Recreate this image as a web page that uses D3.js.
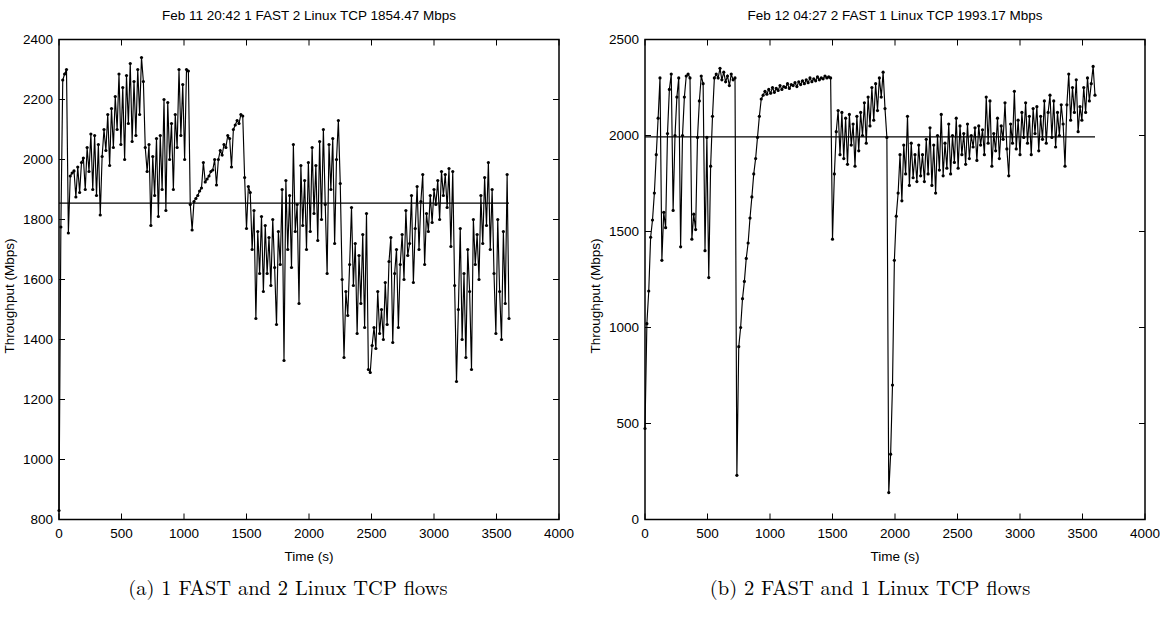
<!DOCTYPE html>
<html><head><meta charset="utf-8">
<script src="https://cdn.jsdelivr.net/npm/d3@7"></script>
<style>body{margin:0;background:#fff} svg{display:block}</style>
</head><body><svg id="c" width="1160" height="623"></svg>
<script>
// ---- data ----
const times = [0,15,30,45,60,75,90,105,120,135,150,165,180,195,210,225,240,255,270,285,300,315,330,345,360,375,390,405,420,435,450,465,480,495,510,525,540,555,570,585,600,615,630,645,660,675,690,705,720,735,750,765,780,795,810,825,840,855,870,885,900,915,930,945,960,975,990,1005,1020,1035,1050,1065,1080,1095,1110,1125,1140,1155,1170,1185,1200,1215,1230,1245,1260,1275,1290,1305,1320,1335,1350,1365,1380,1395,1410,1425,1440,1455,1470,1485,1500,1515,1530,1545,1560,1575,1590,1605,1620,1635,1650,1665,1680,1695,1710,1725,1740,1755,1770,1785,1800,1815,1830,1845,1860,1875,1890,1905,1920,1935,1950,1965,1980,1995,2010,2025,2040,2055,2070,2085,2100,2115,2130,2145,2160,2175,2190,2205,2220,2235,2250,2265,2280,2295,2310,2325,2340,2355,2370,2385,2400,2415,2430,2445,2460,2475,2490,2505,2520,2535,2550,2565,2580,2595,2610,2625,2640,2655,2670,2685,2700,2715,2730,2745,2760,2775,2790,2805,2820,2835,2850,2865,2880,2895,2910,2925,2940,2955,2970,2985,3000,3015,3030,3045,3060,3075,3090,3105,3120,3135,3150,3165,3180,3195,3210,3225,3240,3255,3270,3285,3300,3315,3330,3345,3360,3375,3390,3405,3420,3435,3450,3465,3480,3495,3510,3525,3540,3555,3570,3585,3600];

const throughputA = [830,1775,2265,2285,2300,1755,1945,1955,1962,1875,1975,1890,1990,2005,1900,2040,1960,2085,1900,2080,1880,2050,1815,2010,2100,2030,2150,1980,2170,2040,2210,2100,2285,2050,2240,2000,2280,2120,2320,2060,2260,2080,2300,2150,2340,2260,2040,1960,2050,1780,2010,1880,2070,1810,2080,1900,2200,1830,2190,2000,2120,1900,2150,2040,2300,2080,2250,2000,2300,2295,1850,1765,1860,1870,1880,1895,1905,1990,1925,1935,1945,1960,1965,2000,1915,2000,2030,2015,2050,2040,2080,2070,1975,2100,2115,2130,2120,2150,2145,1940,1770,1910,1890,1700,1830,1470,1760,1620,1810,1560,1780,1620,1740,1580,1800,1640,1450,1760,1650,1900,1330,1930,1700,1880,1640,2050,1760,1850,1520,1980,1780,1930,1700,1990,1760,2040,1820,1980,1730,2060,1800,2100,1850,1620,2050,1900,2070,1720,2000,2130,1920,1600,1340,1560,1480,1650,1840,1580,1720,1420,1680,1520,1750,1440,1820,1300,1290,1380,1440,1370,1560,1420,1500,1400,1590,1450,1660,1740,1390,1620,1700,1440,1650,1750,1600,1830,1680,1720,1880,1590,1770,1910,1700,1860,1950,1650,1820,1760,1880,1790,1900,1850,1930,1800,1960,1880,1950,1840,1970,1710,1960,1580,1260,1500,1770,1400,1620,1340,1700,1560,1300,1800,1650,1750,1600,1880,1720,1940,1780,1990,1700,1900,1620,1420,1800,1560,1400,1760,1520,1950,1470];

const throughputB = [474,1020,1190,1470,1560,1700,1900,2090,2300,1350,1600,1520,2010,2240,2320,1610,2000,2200,2300,1420,2000,2200,2310,2320,2300,1460,1590,1510,1990,2180,2310,2270,1400,1990,1260,1840,2100,2300,2320,2300,2350,2290,2330,2280,2310,2260,2320,2290,2300,230,900,1000,1150,1240,1360,1440,1570,1680,1800,1880,1990,2100,2190,2210,2230,2215,2240,2220,2250,2225,2245,2235,2260,2240,2255,2250,2270,2245,2265,2260,2275,2255,2280,2265,2285,2270,2290,2275,2300,2280,2295,2285,2305,2290,2300,2295,2310,2300,2305,2300,1460,1800,2020,2130,1900,2120,1880,2090,1850,2110,1950,2060,1840,2100,1920,2120,2000,2170,1960,2200,2050,2250,2080,2270,2130,2300,2200,2330,2140,1990,140,340,700,1350,1580,1700,1900,1660,1950,1800,2100,1740,1960,1780,1900,1760,1950,1790,1900,1760,1980,1800,2040,1740,1950,1700,2000,1820,2110,1790,1960,1830,2060,1800,2000,1860,2090,1830,2050,1900,2010,1850,2060,1880,2000,1940,2040,1870,2050,1950,2030,1900,2200,1960,2180,1840,2010,1920,2090,1880,2050,1980,2170,1930,1790,2060,1960,2230,1930,2080,1900,2120,1990,2170,1960,2100,1900,2140,2010,2150,1920,2100,1980,2180,1960,2120,2210,1990,2180,1940,2120,2000,2160,2060,1840,2160,2320,2080,2250,2120,2290,2020,2150,2080,2250,2120,2300,2180,2270,2360,2210];

const meanA = 1854.47, meanB = 1993.17;
const titles = ["Feb 11 20:42 1 FAST 2 Linux TCP 1854.47 Mbps", "Feb 12 04:27 2 FAST 1 Linux TCP 1993.17 Mbps"];
const captions = ["(a) 1 FAST and 2 Linux TCP flows", "(b) 2 FAST and 1 Linux TCP flows"];
const xTicks = [0,500,1000,1500,2000,2500,3000,3500,4000];
const yTicksA = [800,1000,1200,1400,1600,1800,2000,2200,2400];
const yTicksB = [0,500,1000,1500,2000,2500];
const xLabel = "Time (s)", yLabel = "Throughput (Mbps)";

// ---- drawing ----
const svg = d3.select("#c");
const sansFont = "'Liberation Sans Narrow','Arial Narrow','Liberation Sans',sans-serif";
const panels = [
  {x0:59, x1:559, values:throughputA, mean:meanA, yDom:[800,2400], yTicks:yTicksA, title:titles[0], caption:captions[0], capX:288},
  {x0:645, x1:1145, values:throughputB, mean:meanB, yDom:[0,2500], yTicks:yTicksB, title:titles[1], caption:captions[1], capX:870}
];
const plotTop = 39.5, plotBottom = 519.5;

panels.forEach(p => {
  const x = d3.scaleLinear().domain([0,4000]).range([p.x0, p.x1]);
  const y = d3.scaleLinear().domain(p.yDom).range([plotBottom, plotTop]);
  const g = svg.append("g");
  const pts = times.map((t,i) => [t, p.values[i]]);

  const tk = 6;
  xTicks.forEach(v => {
    g.append("line").attr("x1",x(v)).attr("x2",x(v)).attr("y1",plotBottom).attr("y2",plotBottom-tk).attr("stroke","#000").attr("stroke-width",1);
    g.append("line").attr("x1",x(v)).attr("x2",x(v)).attr("y1",plotTop).attr("y2",plotTop+tk).attr("stroke","#000").attr("stroke-width",1);
    g.append("text").attr("x",x(v)).attr("y",plotBottom+18).attr("text-anchor","middle")
      .attr("font-family",sansFont).attr("font-size",13.5).text(v);
  });
  p.yTicks.forEach(v => {
    g.append("line").attr("x1",p.x0).attr("x2",p.x0+tk).attr("y1",y(v)).attr("y2",y(v)).attr("stroke","#000").attr("stroke-width",1);
    g.append("line").attr("x1",p.x1).attr("x2",p.x1-tk).attr("y1",y(v)).attr("y2",y(v)).attr("stroke","#000").attr("stroke-width",1);
    g.append("text").attr("x",p.x0-6).attr("y",y(v)+4.5).attr("text-anchor","end")
      .attr("font-family",sansFont).attr("font-size",13.5).text(v);
  });

  const line = d3.line().x(d => x(d[0])).y(d => y(d[1]));
  g.append("path").datum(pts).attr("d",line).attr("fill","none").attr("stroke","#000").attr("stroke-width",1.15);
  g.selectAll("circle.pt").data(pts).enter().append("circle").attr("class","pt")
    .attr("cx",d=>x(d[0])).attr("cy",d=>y(d[1])).attr("r",1.6).attr("fill","#000");

  g.append("line").attr("x1",x(0)).attr("x2",x(3600)).attr("y1",y(p.mean)).attr("y2",y(p.mean))
    .attr("stroke","#000").attr("stroke-width",1.3);

  g.append("rect").attr("x",p.x0).attr("y",plotTop).attr("width",p.x1-p.x0).attr("height",plotBottom-plotTop)
    .attr("fill","none").attr("stroke","#000").attr("stroke-width",1.5);

  g.append("text").attr("x",(p.x0+p.x1)/2).attr("y",20).attr("text-anchor","middle")
    .attr("font-family",sansFont).attr("font-size",13.5).text(p.title);
  g.append("text").attr("x",(p.x0+p.x1)/2).attr("y",561).attr("text-anchor","middle")
    .attr("font-family",sansFont).attr("font-size",13.5).text(xLabel);
  g.append("text").attr("transform",`translate(${p.x0-45},${296}) rotate(-90)`).attr("text-anchor","middle")
    .attr("font-family",sansFont).attr("font-size",13.5).text(yLabel);
  g.append("text").attr("x",p.capX).attr("y",595).attr("text-anchor","middle")
    .attr("font-family","'Latin Modern Roman','CMU Serif','Liberation Serif','DejaVu Serif',serif").attr("font-size",20.5).text(p.caption);
});
</script></body></html>
